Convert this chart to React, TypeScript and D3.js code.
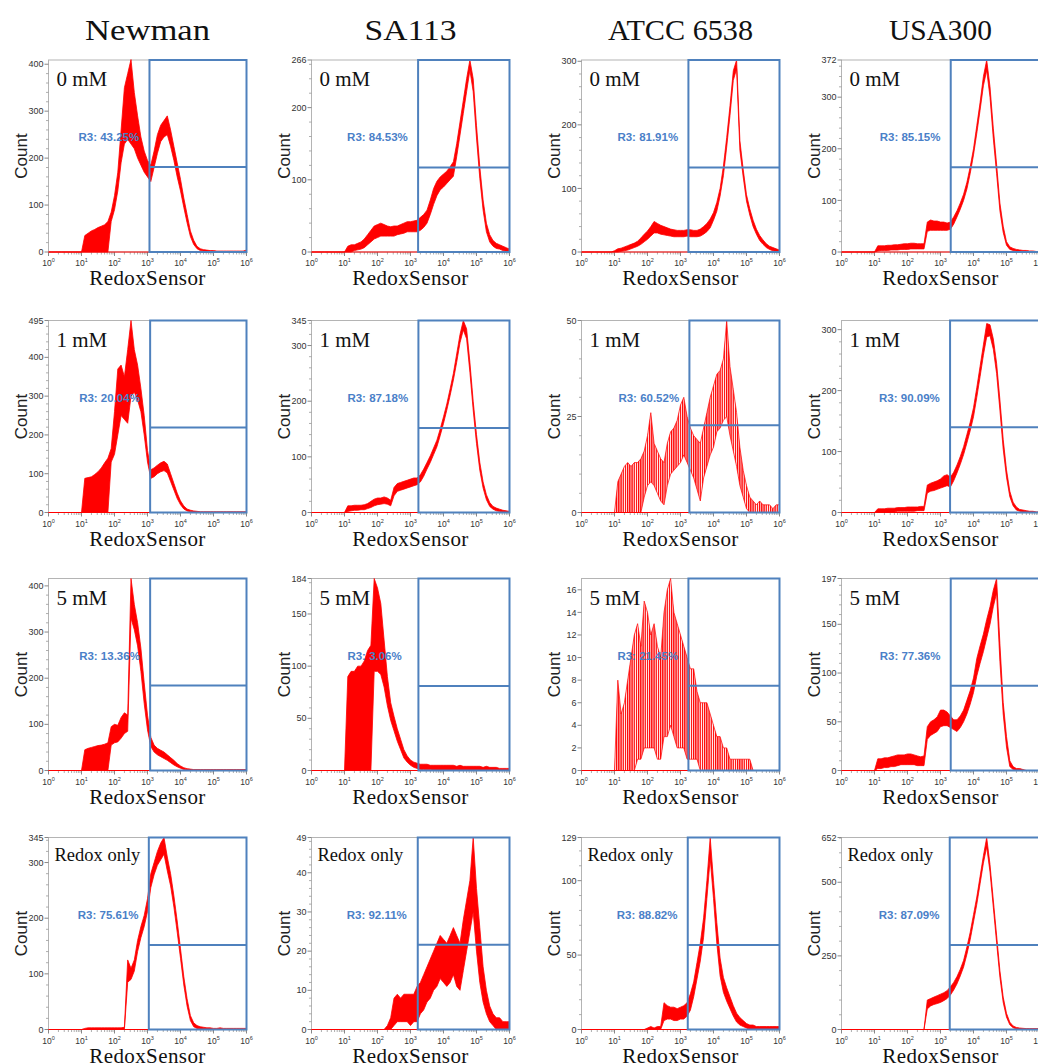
import React from 'react'
import * as d3 from 'd3'

// column / row headings
const strains = ['Newman', 'SA113', 'ATCC 6538', 'USA300']
const treatments = ['0 mM', '1 mM', '5 mM', 'Redox only']

// histogram bins, log10 of RedoxSensor intensity, every 0.1 decade from 10^0 to 10^6
const logBins = d3.range(0, 61).map(i => i / 10)

// counts: upper and lower edge of the noisy trace in each bin
const newman0Hi = [0,0,0,0,0,0,0,0,0,0, 0,35,40,45,48,52,55,58,65,85, 120,170,260,350,380,410,340,290,245,215, 195,185,215,250,270,280,290,260,225,190, 155,115,80,45,25,12,7,5,4,3, 3,2,2,2,2,2,2,2,2,2, 4]
const newman0Lo = [0,0,0,0,0,0,0,0,0,0, 0,0,0,0,0,0,0,0,0,65, 90,130,190,230,240,230,220,200,185,170, 160,150,180,210,235,245,250,225,195,160, 130,95,62,33,16,7,3,2,1,0, 0,0,0,0,0,0,0,0,0,0, 0]
const sa1130Hi = [0,0,0,0,0,0,0,0,0,0, 0,8,10,10,12,14,18,24,30,36, 38,40,38,36,35,36,36,38,40,42, 42,43,44,48,52,58,72,88,98,104, 108,112,118,125,150,180,210,240,266,240, 175,118,72,40,24,16,12,10,8,6, 4]
const sa1130Lo = [0,0,0,0,0,0,0,0,0,0, 0,0,0,2,3,4,6,10,14,18, 20,22,22,22,22,22,24,25,26,28, 28,28,28,30,34,40,52,66,78,86, 90,95,100,105,132,162,192,222,252,222, 158,102,58,28,14,8,5,4,2,1, 0]
const atcc0Hi = [0,0,0,0,0,0,0,0,0,0, 2,5,6,8,10,12,14,17,22,28, 33,40,48,45,42,40,38,36,35,34, 34,34,35,35,34,34,36,40,45,52, 62,78,100,135,180,230,285,302,175,130, 90,68,50,36,26,19,13,9,7,5, 3]
const atcc0Lo = [0,0,0,0,0,0,0,0,0,0, 0,0,1,2,3,5,7,9,12,16, 20,25,30,30,28,27,26,25,24,24, 24,24,25,24,24,24,25,28,32,38, 50,64,88,120,165,215,270,288,160,118, 80,58,40,28,18,12,7,4,2,1, 0]
const usa0Hi = [0,0,0,0,0,0,0,0,0,0, 0,12,12,12,13,13,14,14,15,16, 16,17,17,16,16,16,58,62,60,60, 58,58,56,58,68,80,95,112,135,165, 200,245,290,340,372,320,240,170,95,50, 20,10,7,5,4,3,3,2,2,1, 1]
const usa0Lo = [0,0,0,0,0,0,0,0,0,0, 0,2,3,3,3,4,4,4,5,5, 5,6,6,6,6,6,40,42,42,42, 42,42,42,44,54,68,83,100,122,152, 188,230,275,322,352,300,220,152,80,38, 13,5,3,2,1,1,0,0,0,0, 0]

const newman1Hi = [0,0,0,0,0,0,0,0,0,0, 0,88,90,92,98,105,115,128,140,165, 260,370,380,350,420,495,420,380,320,250, 160,110,115,122,128,132,125,100,75,50, 30,17,9,6,4,3,2,2,2,2, 2,2,2,2,2,2,2,2,2,2, 2]
const newman1Lo = [0,0,0,0,0,0,0,0,0,0, 0,0,0,0,0,0,0,0,0,130, 150,200,250,240,230,300,310,290,260,200, 130,88,92,100,105,108,102,80,58,36, 20,9,4,2,1,0,0,0,0,0, 0,0,0,0,0,0,0,0,0,0, 0]
const sa1131Hi = [0,0,0,0,0,0,0,0,0,0, 0,12,12,13,13,13,14,16,20,24, 26,26,28,26,22,45,52,54,56,58, 60,62,62,68,78,90,102,116,130,150, 172,195,222,250,285,320,345,330,270,200, 140,90,55,32,18,11,8,6,4,3, 2]
const sa1131Lo = [0,0,0,0,0,0,0,0,0,0, 0,2,3,4,4,5,5,7,9,12, 14,15,16,15,12,30,38,40,42,44, 46,48,50,55,65,78,90,104,118,138, 160,184,210,238,270,305,328,312,252,184, 124,76,44,23,11,6,3,2,1,0, 0]
const atcc1Hi = [0,0,0,0,0,0,0,0,0,0, 0,8,10,12,13,12,13,13,14,16, 20,26,18,16,14,13,18,21,22,24, 28,30,25,22,20,19,18,22,26,30, 33,36,37,40,50,38,32,26,17,11, 7,4,3,2,3,2,2,2,1,2, 2]
const atcc1Lo = [0,0,0,0,0,0,0,0,0,0, 0,0,0,0,0,0,0,0,0,4, 7,8,7,5,3,2,7,10,11,12, 13,15,13,11,9,6,3,9,12,15, 17,21,22,24,25,20,16,12,7,4, 1,0,0,0,0,0,0,0,0,0, 0]
const usa1Hi = [0,0,0,0,0,0,0,0,0,0, 0,6,6,6,7,7,7,8,8,8, 9,9,9,9,10,10,45,48,50,52, 55,60,62,58,66,78,92,108,128,148, 172,205,240,275,310,308,285,245,185,120, 70,35,17,9,5,4,3,2,2,1, 1]
const usa1Lo = [0,0,0,0,0,0,0,0,0,0, 0,0,0,1,1,1,1,2,2,2, 2,2,2,3,3,3,32,35,36,38, 40,42,44,42,52,65,79,95,114,134, 157,189,223,258,288,290,268,228,168,104, 58,26,11,4,2,1,0,0,0,0, 0]

const newman5Hi = [0,0,0,0,0,0,0,0,0,0, 0,45,48,50,52,54,55,57,60,95, 100,98,115,125,120,416,360,320,265,190, 120,72,55,48,44,40,34,28,22,15, 10,6,4,3,2,2,2,2,2,2, 2,2,2,2,2,2,2,2,2,2, 2]
const newman5Lo = [0,0,0,0,0,0,0,0,0,0, 0,0,0,0,0,0,0,0,0,55, 60,62,70,80,85,330,305,270,215,145, 88,52,40,34,30,26,22,17,12,8, 5,2,1,0,0,0,0,0,0,0, 0,0,0,0,0,0,0,0,0,0, 0]
const sa1135Hi = [0,0,0,0,0,0,0,0,0,0, 0,90,95,95,100,100,105,115,120,184, 175,160,125,90,65,52,40,30,20,14, 10,8,7,6,6,6,5,5,5,5, 5,5,5,5,4,5,4,4,4,4, 4,4,3,4,3,3,3,2,2,2, 2]
const sa1135Lo = [0,0,0,0,0,0,0,0,0,0, 0,0,0,0,0,0,0,0,0,95, 95,92,80,62,48,38,28,20,12,8, 5,3,2,1,1,1,1,0,0,0, 0,0,0,0,0,0,0,0,0,0, 0,0,0,0,0,0,0,0,0,0, 0]
const atcc5Hi = [0,0,0,0,0,0,0,0,0,0, 0,8,5,6,8,10,12,13,11,15, 14,12,13,11,10,14,16,17,14,13, 12,11,10,9,9,7,6,6,6,5, 4,3,3,2,2,1,1,1,1,1, 1,1,0,0,0,0,0,0,0,0, 0]
const atcc5Lo = [0,0,0,0,0,0,0,0,0,0, 0,0,0,0,0,0,0,1,1,2, 2,2,2,1,1,3,3,4,3,2, 2,2,1,1,1,1,0,0,0,0, 0,0,0,0,0,0,0,0,0,0, 0,0,0,0,0,0,0,0,0,0, 0]
const usa5Hi = [0,0,0,0,0,0,0,0,0,0, 0,12,12,13,13,14,15,16,16,16, 17,17,16,15,14,15,45,50,52,55, 62,62,60,56,52,52,56,62,72,82, 95,115,128,140,155,168,185,197,130,70, 35,10,4,2,2,1,0,0,0,0, 0]
const usa5Lo = [0,0,0,0,0,0,0,0,0,0, 0,2,2,3,3,4,4,5,6,6, 6,6,6,5,5,5,32,36,38,40, 45,46,46,44,42,40,44,50,58,68, 80,97,110,122,136,150,168,182,112,58, 24,4,1,0,0,0,0,0,0,0, 0]

const newmanRHi = [0,0,0,0,0,0,0,0,0,0, 0,2,3,3,3,3,3,3,3,3, 3,3,3,4,125,110,125,160,185,205, 235,280,300,320,335,345,310,280,240,195, 145,95,55,25,12,7,5,4,3,3, 2,2,3,2,2,2,2,2,2,2, 2]
const newmanRLo = [0,0,0,0,0,0,0,0,0,0, 0,0,0,0,0,0,0,0,0,0, 0,0,0,0,85,90,105,140,165,185, 212,255,278,295,305,315,285,258,220,175, 128,80,42,16,5,2,1,1,0,0, 0,0,0,0,0,0,0,0,0,0, 0]
const sa113RHi = [0,0,0,0,0,0,0,0,0,0, 0,0,0,0,0,0,0,0,0,0, 0,0,0,1,3,8,9,8,9,9, 9,9,11,12,14,16,18,20,22,24, 23,22,24,26,24,22,28,33,38,49, 36,26,16,10,6,4,3,3,2,2, 2]
const sa113RLo = [0,0,0,0,0,0,0,0,0,0, 0,0,0,0,0,0,0,0,0,0, 0,0,0,0,0,1,2,2,2,2, 1,2,2,4,5,7,8,10,11,13, 12,11,12,14,11,10,15,20,25,30, 20,12,7,4,2,1,0,0,0,0, 0]
const atccRHi = [0,0,0,0,0,0,0,0,0,0, 0,0,0,0,0,0,0,0,0,0, 1,2,1,2,2,18,16,15,15,14, 15,16,18,24,32,45,58,75,100,129, 100,72,48,35,28,22,16,11,8,6, 4,3,3,2,2,2,2,2,2,2, 2]
const atccRLo = [0,0,0,0,0,0,0,0,0,0, 0,0,0,0,0,0,0,0,0,0, 0,0,0,0,0,6,7,7,6,6, 7,7,9,13,22,34,46,62,88,115, 88,58,36,25,19,14,9,5,3,2, 1,0,0,0,0,0,0,0,0,0, 0]
const usaRHi = [0,0,0,0,0,0,0,0,0,0, 0,0,0,0,0,0,0,0,0,0, 0,0,0,0,0,0,100,105,110,115, 120,125,132,145,160,180,205,235,280,330, 390,450,520,590,652,560,440,320,200,110, 55,25,12,7,5,4,3,3,3,3, 3]
const usaRLo = [0,0,0,0,0,0,0,0,0,0, 0,0,0,0,0,0,0,0,0,0, 0,0,0,0,0,0,70,80,85,88, 92,98,105,117,134,155,182,212,255,305, 365,425,495,565,620,535,415,295,178,92, 42,16,6,2,1,0,0,0,0,0, 0]

const traces = [
  [[newman0Hi, newman0Lo], [sa1130Hi, sa1130Lo], [atcc0Hi, atcc0Lo], [usa0Hi, usa0Lo]],
  [[newman1Hi, newman1Lo], [sa1131Hi, sa1131Lo], [atcc1Hi, atcc1Lo], [usa1Hi, usa1Lo]],
  [[newman5Hi, newman5Lo], [sa1135Hi, sa1135Lo], [atcc5Hi, atcc5Lo], [usa5Hi, usa5Lo]],
  [[newmanRHi, newmanRLo], [sa113RHi, sa113RLo], [atccRHi, atccRLo], [usaRHi, usaRLo]],
]

// y axis top and tick labels of every panel
const yMax = [
  [409, 266, 302, 372],
  [495, 345, 50, 315],
  [416, 184, 17, 197],
  [345, 49, 129, 652],
]
const yTicks = [
  [[0, 100, 200, 300, 400], [0, 100, 200, 266], [0, 100, 200, 300], [0, 100, 200, 300, 372]],
  [[0, 100, 200, 300, 400, 495], [0, 100, 200, 300, 345], [0, 25, 50], [0, 100, 200, 300]],
  [[0, 100, 200, 300, 400], [0, 50, 100, 150, 184], [0, 2, 4, 6, 8, 10, 12, 14, 16], [0, 50, 100, 150, 197]],
  [[0, 100, 200, 300, 345], [0, 10, 20, 30, 40, 49], [0, 50, 100, 129], [0, 250, 500, 652]],
]

// R3 gate: left edge (log10), level of the marker line (count), and its label
const gateLog = [
  [3.06, 3.23, 3.24, 3.31],
  [3.08, 3.24, 3.27, 3.29],
  [3.08, 3.24, 3.24, 3.31],
  [3.04, 3.22, 3.22, 3.28],
]
const gateLevel = [
  [181, 117, 133, 164],
  [219, 152, 22.7, 140],
  [184, 81, 7.5, 87],
  [152, 21.6, 56.8, 287],
]
const r3Labels = [
  ['R3: 43.25%', 'R3: 84.53%', 'R3: 81.91%', 'R3: 85.15%'],
  ['R3: 20.04%', 'R3: 87.18%', 'R3: 60.52%', 'R3: 90.09%'],
  ['R3: 13.36%', 'R3: 3.06%', 'R3: 21.45%', 'R3: 77.36%'],
  ['R3: 75.61%', 'R3: 92.11%', 'R3: 88.82%', 'R3: 87.09%'],
]

const W = 1038, H = 1063
const colLeft = [48.5, 311.5, 581.5, 841.5]
const rowTop = [60, 320.5, 578.5, 837.5]
const plotW = 198, plotH = 192
const titleWidth = [125, 92, 145, 103]
const serif = '"Liberation Serif", "Times New Roman", serif'
const sans = '"Liberation Sans", Arial, sans-serif'
const blue = '#4f81bd'
const red = '#ff0000'
const frame = '#b4b4b4'
// the two low-count ATCC panels are drawn as separate spikes, not a solid band
const spiky = (row: number, col: number) => col === 2 && (row === 1 || row === 2)

function Panel({ row, col }: { row: number; col: number }) {
  const left = colLeft[col]
  const top = rowTop[row]
  const bottom = top + plotH
  const right = left + plotW
  const x = d3.scaleLinear().domain([0, 6]).range([left, right])
  const y = d3.scaleLinear().domain([0, yMax[row][col]]).range([bottom, top])
  const [hi, lo] = traces[row][col]
  const area = d3.area<number>()
    .x((_, i) => x(logBins[i]))
    .y0((_, i) => y(lo[i]))
    .y1(d => y(d))
  const ticks = yTicks[row][col]
  const step = ticks[1] - ticks[0]
  const minor = step >= 10 ? d3.range(0, yMax[row][col], step / 5).filter(v => v % step !== 0) : []
  const decades = d3.range(0, 7)
  const minorX = d3.range(0, 6).flatMap(k => d3.range(2, 10).map(m => k + Math.log10(m)))
  const gx = x(gateLog[row][col])
  const clipId = `clip-${row}-${col}`
  const isLast = row === 3
  const sp = spiky(row, col)

  return (
    <g>
      <defs>
        <clipPath id={clipId}>
          <rect x={left} y={top - 1} width={plotW} height={plotH + 2} />
        </clipPath>
      </defs>
      <rect x={left} y={top} width={plotW} height={plotH} fill="#fff" stroke={frame} strokeWidth={1} />
      {minor.map(v => (
        <line key={'m' + v} x1={left - 2.5} x2={left} y1={y(v)} y2={y(v)} stroke="#999" strokeWidth={0.8} />
      ))}
      {ticks.map(v => (
        <g key={'t' + v}>
          <line x1={left - 4} x2={left} y1={y(v)} y2={y(v)} stroke="#888" strokeWidth={1} />
          <text x={left - 5} y={y(v)} dy="0.35em" textAnchor="end" fontFamily={sans} fontSize={9} fill="#333">{v}</text>
        </g>
      ))}
      {minorX.map(v => (
        <line key={'mx' + v} x1={x(v)} x2={x(v)} y1={bottom} y2={bottom + 2.5} stroke="#999" strokeWidth={0.8} />
      ))}
      {decades.map(k => (
        <g key={'d' + k}>
          <line x1={x(k)} x2={x(k)} y1={bottom} y2={bottom + 4} stroke="#888" strokeWidth={1} />
          <text x={x(k)} y={bottom + 14} textAnchor="middle" fontFamily={sans} fontSize={8.5} fill="#333">
            <tspan>10</tspan>
            <tspan dy={-4} fontSize={5.5}>{k}</tspan>
          </text>
        </g>
      ))}
      <path d={area(hi) ?? ''} fill={sp ? 'url(#spikes)' : red} stroke={red} strokeWidth={sp ? 0.7 : 0.8}
        clipPath={`url(#${clipId})`} />
      <line x1={left} x2={right} y1={bottom} y2={bottom} stroke={red} strokeWidth={1} />
      <rect x={gx} y={top} width={right - gx} height={plotH} fill="none" stroke={blue} strokeWidth={2} />
      <line x1={gx} x2={right} y1={y(gateLevel[row][col])} y2={y(gateLevel[row][col])} stroke={blue} strokeWidth={2} />
      <text x={gx - 71} y={top + 81} fontFamily={sans} fontWeight="bold" fontSize={11.5} fill="#4a80c8">
        {r3Labels[row][col]}
      </text>
      <text x={left + (isLast ? 6 : 8)} y={top + (isLast ? 23 : 26)} fontFamily={serif}
        fontSize={isLast ? 18.5 : 21} fill="#111">
        {treatments[row]}
      </text>
      <text transform={`translate(${left - 22},${(top + bottom) / 2}) rotate(-90)`} textAnchor="middle"
        fontFamily={sans} fontSize={17} fill="#222">
        Count
      </text>
      <text x={(left + right) / 2} y={bottom + 33} textAnchor="middle" fontFamily={serif} fontSize={21}
        letterSpacing={0.4} fill="#111">
        RedoxSensor
      </text>
    </g>
  )
}

export default function App() {
  return (
    <svg width={W} height={H} viewBox={`0 0 ${W} ${H}`}
      style={{ position: 'absolute', left: 0, top: 0, background: '#fff', display: 'block' }}>
      <defs>
        <pattern id="spikes" width={2.2} height={4} patternUnits="userSpaceOnUse">
          <rect width={1.3} height={4} fill={red} />
        </pattern>
      </defs>
      <rect width={W} height={H} fill="#fff" />
      {strains.map((s, c) => (
        <text key={s} x={colLeft[c] + plotW / 2} y={40} textAnchor="middle" fontFamily={serif}
          fontSize={30} textLength={titleWidth[c]} lengthAdjust="spacingAndGlyphs" fill="#111">
          {s}
        </text>
      ))}
      {treatments.map((t, r) => strains.map((s, c) => <Panel key={t + s} row={r} col={c} />))}
    </svg>
  )
}
